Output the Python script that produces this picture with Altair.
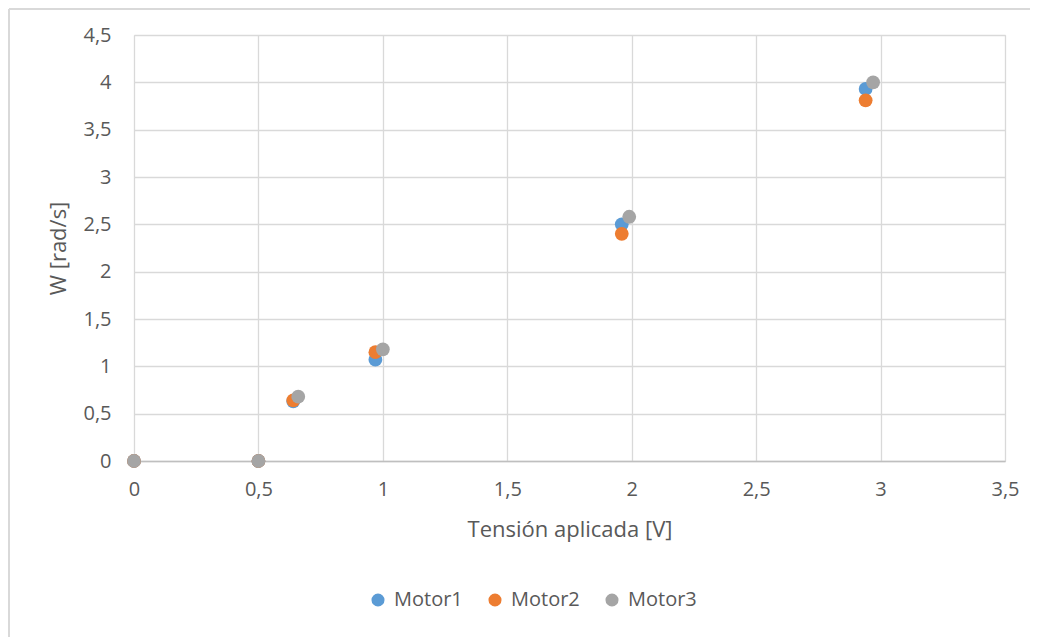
import altair as alt
import pandas as pd

motors = ["Motor1", "Motor2", "Motor3"]
m1_x = [0, 0.5, 0.64, 0.97, 1.96, 2.94]
m1_y = [0, 0, 0.63, 1.07, 2.50, 3.93]
m2_x = [0, 0.5, 0.64, 0.97, 1.96, 2.94]
m2_y = [0, 0, 0.64, 1.15, 2.40, 3.81]
m3_x = [0, 0.5, 0.66, 1.00, 1.99, 2.97]
m3_y = [0, 0, 0.68, 1.18, 2.58, 4.00]
colors = ["#5B9BD5", "#ED7D31", "#A5A5A5"]
x_ticks = [0, 0.5, 1, 1.5, 2, 2.5, 3, 3.5]
y_ticks = [0, 0.5, 1, 1.5, 2, 2.5, 3, 3.5, 4, 4.5]

rows = []
for name, xs, ys in zip(motors, [m1_x, m2_x, m3_x], [m1_y, m2_y, m3_y]):
    for xv, yv in zip(xs, ys):
        rows.append({"motor": name, "x": xv, "y": yv})
df = pd.DataFrame(rows)
df["order"] = df["motor"].map({m: i for i, m in enumerate(motors)})

FONT = "Open Sans"
W, H = 871, 426

points = alt.Chart(df).mark_circle(size=190, opacity=1).encode(
    x=alt.X("x:Q", scale=alt.Scale(domain=[0, 3.5], nice=False, zero=False),
            axis=alt.Axis(values=x_ticks, format=".1~f",
                          labelExpr="replace(datum.label, '.', ',')",
                          title="Tensión aplicada [V]", grid=True,
                          gridColor="#D9D9D9", gridWidth=1.3,
                          domain=True, domainColor="#BFBFBF", domainWidth=1.3,
                          ticks=False, labelPadding=18, titlePadding=20,
                          labelFlush=False, labelOverlap=False,
                          labelFont=FONT, labelFontSize=20, labelColor="#595959",
                          titleFont=FONT, titleFontSize=22, titleColor="#595959",
                          titleFontWeight="normal")),
    y=alt.Y("y:Q", scale=alt.Scale(domain=[0, 4.5], nice=False, zero=False),
            axis=alt.Axis(values=y_ticks, format=".1~f",
                          labelExpr="replace(datum.label, '.', ',')",
                          title="W [rad/s]", grid=True,
                          gridColor="#D9D9D9", gridWidth=1.3,
                          domain=False, ticks=False, labelPadding=23, titlePadding=12,
                          labelFlush=False, labelOverlap=False,
                          labelFont=FONT, labelFontSize=20, labelColor="#595959",
                          titleFont=FONT, titleFontSize=22, titleColor="#595959",
                          titleFontWeight="normal")),
    color=alt.Color("motor:N", scale=alt.Scale(domain=motors, range=colors),
                    legend=alt.Legend(orient="none", direction="horizontal",
                                      legendX=234, legendY=555, title=None,
                                      symbolType="circle", symbolSize=170,
                                      symbolOpacity=1, symbolStrokeWidth=0,
                                      labelFont=FONT, labelFontSize=20,
                                      labelColor="#595959", columnPadding=22,
                                      labelOffset=6)),
    order=alt.Order("order:Q"),
)

border_top = alt.Chart(df).mark_rule(color="#D9D9D9", strokeWidth=2).encode(
    x=alt.value(-125), x2=alt.value(W + 40), y=alt.value(-26))
border_left = alt.Chart(df).mark_rule(color="#D9D9D9", strokeWidth=2).encode(
    x=alt.value(-125), y=alt.value(-26), y2=alt.value(H + 200))

chart = alt.layer(points, border_top, border_left).properties(
    width=W, height=H,
    padding={"left": 126, "top": 27, "right": 25, "bottom": 176},
    autosize=alt.AutoSizeParams(type="none"),
).configure_view(stroke=None).configure(background="white")

chart.save("out.html", embed_options={"renderer": "svg", "actions": False})
